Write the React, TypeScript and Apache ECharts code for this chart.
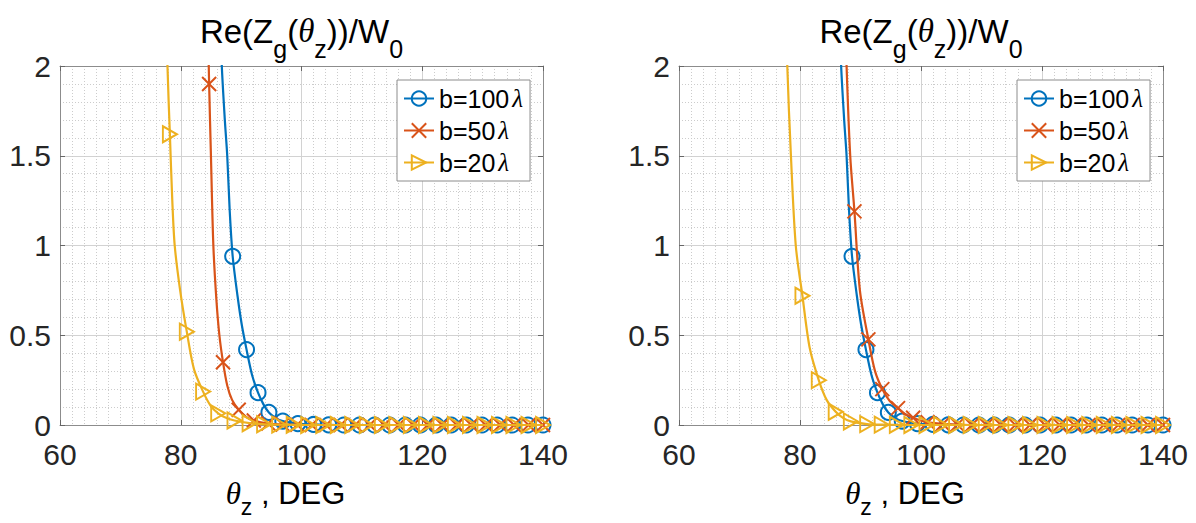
import React, { useEffect, useRef } from 'react';
import * as echarts from 'echarts';

// ---------------- data ----------------
const xTickLabels = [60, 80, 100, 120, 140];
const yTickLabels = [0, 0.5, 1, 1.5, 2];
const seriesNames = ['b=100λ', 'b=50λ', 'b=20λ'];
const seriesColors = ['#0072BD', '#D95319', '#EDB120'];

// Left panel — b=100λ
const leftB100Markers = [[88.6,0.94],[90.9,0.42],[92.8,0.18],[94.6,0.07],[96.9,0.022],[99.4,0.008],[102.0,0.003],[104.5,0.001],[107.0,0],[109.6,0],[112.1,0],[114.6,0],[117.2,0],[119.7,0],[122.3,0],[124.8,0],[127.3,0],[129.9,0],[132.4,0],[134.9,0],[137.5,0],[140,0]];
const leftB100Curve = [[86.4,2.4],[86.8,2.0],[87.3,1.7],[87.7,1.5],[88.1,1.2],[89.4,0.72],[90.1,0.56],[91.8,0.28],[93.7,0.115],[95.7,0.04]];
// Left panel — b=50λ
const leftB50Markers = [[84.7,1.9],[87.0,0.35],[89.6,0.085],[92.1,0.025],[94.5,0.008],[96.9,0.003],[99.3,0.001],[101.7,0],[104.1,0],[106.5,0],[108.9,0],[111.3,0],[113.7,0],[116.1,0],[118.5,0],[120.9,0],[123.3,0],[125.7,0],[128.1,0],[130.5,0],[132.9,0],[135.2,0],[137.6,0],[140,0]];
const leftB50Curve = [[84.4,2.4],[85.0,1.5],[85.4,1.0],[85.9,0.7],[86.4,0.5],[87.7,0.22],[88.5,0.14],[90.8,0.045]];
// Left panel — b=20λ
const leftB20Markers = [[78.2,1.62],[81.0,0.52],[83.7,0.186],[86.2,0.065],[88.9,0.025],[91.4,0.01],[93.8,0.004],[96.3,0.002],[98.7,0.001],[101.1,0],[103.6,0],[106.0,0],[108.4,0],[110.8,0],[113.3,0],[115.7,0],[118.1,0],[120.6,0],[123.0,0],[125.4,0],[127.9,0],[130.3,0],[132.7,0],[135.1,0],[137.6,0],[140,0]];
const leftB20Curve = [[77.6,2.4],[77.8,2.0],[78.6,1.25],[79.0,1.0],[79.9,0.75],[82.2,0.31],[84.9,0.11],[87.5,0.04]];

// Right panel — b=100λ
const rightB100Markers = [[88.6,0.94],[90.9,0.42],[92.8,0.18],[94.6,0.07],[96.9,0.022],[99.4,0.008],[102.0,0.003],[104.5,0.001],[107.0,0],[109.6,0],[112.1,0],[114.6,0],[117.2,0],[119.7,0],[122.3,0],[124.8,0],[127.3,0],[129.9,0],[132.4,0],[134.9,0],[137.5,0],[140,0]];
const rightB100Curve = [[86.4,2.4],[86.8,2.0],[87.3,1.7],[87.7,1.5],[88.1,1.2],[89.4,0.72],[90.1,0.56],[91.8,0.28],[93.7,0.115],[95.7,0.04]];
// Right panel — b=50λ
const rightB50Markers = [[89.0,1.19],[91.3,0.477],[93.6,0.2],[96.2,0.094],[98.7,0.04],[101.1,0.015],[103.6,0.006],[106.0,0.002],[108.4,0],[110.8,0],[113.2,0],[115.6,0],[118.0,0],[120.5,0],[122.9,0],[125.3,0],[127.7,0],[130.2,0],[132.6,0],[135.0,0],[137.5,0],[140,0]];
const rightB50Curve = [[87.4,2.4],[87.7,2.0],[88.3,1.5],[89.9,0.75],[92.4,0.3],[94.8,0.135],[97.4,0.06],[99.9,0.025]];
// Right panel — b=20λ
const rightB20Markers = [[80.4,0.72],[83.1,0.25],[85.9,0.074],[88.4,0.02],[91.1,0.005],[93.5,0.002],[96.0,0.001],[98.4,0],[100.9,0],[103.3,0],[105.8,0],[108.2,0],[110.7,0],[113.1,0],[115.6,0],[118.0,0],[120.4,0],[122.9,0],[125.3,0],[127.8,0],[130.2,0],[132.7,0],[135.1,0],[137.6,0],[140,0]];
const rightB20Curve = [[77.7,2.4],[77.9,2.0],[78.5,1.5],[79.3,1.0],[81.6,0.43],[84.4,0.14],[87.1,0.04]];

const panels = [
  { markers: [leftB100Markers, leftB50Markers, leftB20Markers], curves: [leftB100Curve, leftB50Curve, leftB20Curve] },
  { markers: [rightB100Markers, rightB50Markers, rightB20Markers], curves: [rightB100Curve, rightB50Curve, rightB20Curve] },
];

// ---------------- styling ----------------
const FONT = 'Liberation Sans, Arial, Helvetica, sans-serif';
const SERIF = 'Liberation Serif, serif';
const SYMBOLS = [
  'circle',
  'path://M0,0L10,10M0,10L10,0',
  'path://M0,0L10,5L0,10Z',
];
const SYMBOL_SIZES: any[] = [15, 14, [14, 16]];
const GRIDS = [
  { left: 60, top: 66, width: 483, height: 359 },
  { left: 679, top: 66, width: 484, height: 359 },
];

function mergeData(curve: number[][], markers: number[][]) {
  const items: any[] = [];
  curve.forEach((p) => items.push({ value: [p[0], p[1]], symbol: 'none' }));
  markers.forEach((p) => items.push({ value: [p[0], p[1]] }));
  items.sort((a, b) => a.value[0] - b.value[0]);
  return items;
}

export default function App() {
  const ref = useRef<HTMLDivElement>(null);
  useEffect(() => {
    if (!ref.current) return;
    const chart = echarts.init(ref.current, null, { renderer: 'svg' });

    const xAxes: any[] = [];
    const yAxes: any[] = [];
    const series: any[] = [];
    GRIDS.forEach((_, gi) => {
      const axisLine = { show: true, onZero: false, lineStyle: { color: '#8c8c8c', width: 1 } };
      const tick = { show: true, inside: true, length: 5, lineStyle: { color: '#666' } };
      xAxes.push({
        gridIndex: gi, type: 'value', position: 'bottom',
        min: xTickLabels[0], max: xTickLabels[xTickLabels.length - 1], interval: 20,
        axisLine, axisTick: tick,
        axisLabel: { fontSize: 30, color: '#262626', margin: 14, fontFamily: FONT },
        splitLine: { show: true, lineStyle: { color: '#d2d2d2', width: 1 } },
        minorTick: { show: false, splitNumber: 10 },
        minorSplitLine: { show: true, lineStyle: { color: '#cccccc', width: 1, type: [1, 2] } },
      });
      xAxes.push({
        gridIndex: gi, type: 'value', position: 'top',
        min: xTickLabels[0], max: xTickLabels[xTickLabels.length - 1], interval: 20,
        axisLine, axisTick: tick, axisLabel: { show: false }, splitLine: { show: false },
      });
      yAxes.push({
        gridIndex: gi, type: 'value', position: 'left',
        min: yTickLabels[0], max: yTickLabels[yTickLabels.length - 1], interval: 0.5,
        axisLine, axisTick: tick,
        axisLabel: { fontSize: 30, color: '#262626', margin: 9, fontFamily: FONT },
        splitLine: { show: true, lineStyle: { color: '#d2d2d2', width: 1 } },
        minorTick: { show: false, splitNumber: 5 },
        minorSplitLine: { show: true, lineStyle: { color: '#cccccc', width: 1, type: [1, 2] } },
      });
      yAxes.push({
        gridIndex: gi, type: 'value', position: 'right',
        min: yTickLabels[0], max: yTickLabels[yTickLabels.length - 1], interval: 0.5,
        axisLine, axisTick: tick, axisLabel: { show: false }, splitLine: { show: false },
      });
      const panel = panels[gi];
      seriesNames.forEach((name, si) => {
        series.push({
          name, type: 'line',
          xAxisIndex: gi * 2, yAxisIndex: gi * 2,
          data: mergeData(panel.curves[si], panel.markers[si]),
          smooth: 0.3,
          symbol: SYMBOLS[si], symbolSize: SYMBOL_SIZES[si],
          showAllSymbol: true,
          clip: true,
          lineStyle: { color: seriesColors[si], width: 2.2 },
          itemStyle: { color: 'rgba(0,0,0,0)', borderColor: seriesColors[si], borderWidth: 2 },
          emphasis: { disabled: true },
          z: 2 + si,
        });
      });
    });

    const legendRich = {
      t: { fontSize: 25, fontFamily: FONT, color: '#000' },
      l: { fontSize: 25, fontFamily: SERIF, fontStyle: 'italic', color: '#000', padding: [0, 0, 0, 3] },
    };
    const legendCommon = {
      orient: 'vertical', top: 80,
      data: seriesNames,
      backgroundColor: '#fff', borderColor: '#8c8c8c', borderWidth: 1,
      padding: [6, 7, 6, 6], itemGap: 7, itemWidth: 30, itemHeight: 18,
      selectedMode: false,
      formatter: (n: string) => `{t|${n.slice(0, -1)}}{l|λ}`,
      textStyle: { rich: legendRich },
    };

    const titleRich = {
      m: { fontSize: 33, fontFamily: FONT, color: '#000' },
      i: { fontSize: 33, fontFamily: SERIF, fontStyle: 'italic', color: '#000' },
      s: { fontSize: 25, fontFamily: FONT, color: '#000', padding: [36, 0, 0, 0] },
    };
    const labelRich = {
      m: { fontSize: 31, fontFamily: FONT, color: '#000' },
      i: { fontSize: 31, fontFamily: SERIF, fontStyle: 'italic', color: '#000' },
      s: { fontSize: 23, fontFamily: FONT, color: '#000', padding: [28, 0, 0, 0] },
    };
    const titleText = '{m|Re(Z}{s|g}{m|(}{i|θ}{s|z}{m|))/W}{s|0}';
    const xLabelText = '{i|θ}{s|z}{m| , DEG}';

    const graphics: any[] = [];
    GRIDS.forEach((g) => {
      const cx = g.left + g.width / 2;
      graphics.push({ type: 'text', x: cx, y: 31, style: { text: titleText, rich: titleRich, align: 'center', verticalAlign: 'middle' } });
      graphics.push({ type: 'text', x: cx - 16, y: 493, style: { text: xLabelText, rich: labelRich, align: 'center', verticalAlign: 'middle' } });
    });

    chart.setOption({
      animation: false,
      backgroundColor: '#fff',
      grid: GRIDS.map((g) => ({ ...g, containLabel: false })),
      xAxis: xAxes,
      yAxis: yAxes,
      legend: [
        { ...legendCommon, left: 397 },
        { ...legendCommon, left: 1017 },
      ],
      series,
      graphic: graphics,
    });
    return () => chart.dispose();
  }, []);
  return <div ref={ref} style={{ width: 1196, height: 523, position: 'absolute', left: 0, top: 0 }} />;
}
